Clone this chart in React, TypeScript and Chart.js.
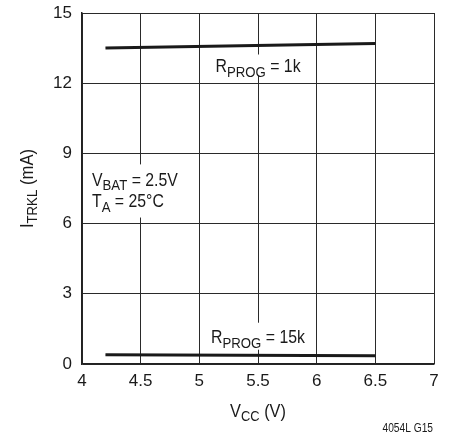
import React, { useEffect, useRef } from 'react';
import { Chart, registerables } from 'chart.js';
Chart.register(...registerables);

const vcc = [4.2, 6.5];
const iProg1k = [13.5, 13.7];
const iProg15k = [0.4, 0.35];
const xTicks = [4, 4.5, 5, 5.5, 6, 6.5, 7];
const yTicks = [0, 3, 6, 9, 12, 15];

const FONT = '"Liberation Sans", Arial, sans-serif';

type Seg = { t: string; size: number; dy?: number };

function measure(ctx: CanvasRenderingContext2D, segs: Seg[], sx: number) {
  let w = 0;
  for (const s of segs) {
    ctx.font = `${s.size}px ${FONT}`;
    w += ctx.measureText(s.t).width;
  }
  return w * sx;
}

function drawRich(ctx: CanvasRenderingContext2D, x: number, y: number, segs: Seg[], align: 'left' | 'center' | 'right', sx = 1) {
  const w = measure(ctx, segs, sx);
  const left = align === 'left' ? x : align === 'center' ? x - w / 2 : x - w;
  ctx.save();
  ctx.translate(left, y);
  ctx.scale(sx, 1);
  ctx.textBaseline = 'alphabetic';
  ctx.textAlign = 'left';
  let cx = 0;
  for (const s of segs) {
    ctx.font = `${s.size}px ${FONT}`;
    ctx.fillText(s.t, cx, s.dy || 0);
    cx += ctx.measureText(s.t).width;
  }
  ctx.restore();
}

const SX = 0.88;

const annotPlugin = {
  id: 'annot',
  afterDatasetsDraw(chart: any) {
    const ctx: CanvasRenderingContext2D = chart.ctx;
    const xs = chart.scales.x;
    const ys = chart.scales.y;
    ctx.save();
    const label = (xv: number, yv: number, segs: Seg[], align: any, boxTop: number, boxBottom: number) => {
      const px = xs.getPixelForValue(xv);
      const py = ys.getPixelForValue(yv);
      const w = measure(ctx, segs, SX);
      const left = align === 'left' ? px : px - w / 2;
      ctx.fillStyle = '#ffffff';
      ctx.fillRect(left - 3, py - boxTop, w + 6, boxTop + boxBottom);
      ctx.fillStyle = '#1a1a1a';
      drawRich(ctx, px, py, segs, align, SX);
    };
    label(5.5, 12.5, [{ t: 'R', size: 18 }, { t: 'PROG', size: 15, dy: 5 }, { t: ' = 1k', size: 18 }], 'center', 17, 4);
    label(5.5, 0.91, [{ t: 'R', size: 18 }, { t: 'PROG', size: 15, dy: 5 }, { t: ' = 15k', size: 18 }], 'center', 20, 7);
    label(4.085, 7.59, [{ t: 'V', size: 18 }, { t: 'BAT', size: 15, dy: 4 }, { t: ' = 2.5V', size: 18 }], 'left', 22, 10);
    label(4.085, 6.73, [{ t: 'T', size: 18 }, { t: 'A', size: 15, dy: 5 }, { t: ' = 25°C', size: 18 }], 'left', 10, 11);

    const ca = chart.chartArea;
    ctx.fillStyle = '#1a1a1a';
    drawRich(ctx, (ca.left + ca.right) / 2, 417, [{ t: 'V', size: 19 }, { t: 'CC', size: 15, dy: 4 }, { t: ' (V)', size: 19 }], 'center', 0.86);
    ctx.save();
    ctx.translate(33, (ca.top + ca.bottom) / 2);
    ctx.rotate(-Math.PI / 2);
    drawRich(ctx, 0, 0, [{ t: 'I', size: 19 }, { t: 'TRKL', size: 15, dy: 4 }, { t: ' (mA)', size: 19 }], 'center', 0.88);
    ctx.restore();
    drawRich(ctx, 433, 432, [{ t: '4054L G15', size: 12 }], 'right', 0.85);
    ctx.restore();
  },
};

export default function App() {
  const ref = useRef<HTMLCanvasElement>(null);
  useEffect(() => {
    const chart = new Chart(ref.current!, {
      type: 'scatter',
      data: {
        datasets: [
          {
            label: 'RPROG = 1k',
            data: vcc.map((v, i) => ({ x: v, y: iProg1k[i] })),
            showLine: true,
            borderColor: '#1a1a1a',
            borderWidth: 3,
            pointRadius: 0,
          },
          {
            label: 'RPROG = 15k',
            data: vcc.map((v, i) => ({ x: v, y: iProg15k[i] })),
            showLine: true,
            borderColor: '#1a1a1a',
            borderWidth: 3,
            pointRadius: 0,
          },
        ],
      },
      options: {
        animation: false,
        responsive: false,
        maintainAspectRatio: false,
        layout: { padding: { left: 0, right: 16, top: 13, bottom: 0 } },
        plugins: { legend: { display: false }, tooltip: { enabled: false } },
        scales: {
          x: {
            type: 'linear',
            min: 4,
            max: 7,
            afterBuildTicks: (s: any) => { s.ticks = xTicks.map((v) => ({ value: v })); },
            afterFit: (s: any) => { s.height = 73; s.paddingLeft = 0; s.paddingRight = 0; },
            grid: { color: '#2a2a2a', lineWidth: 1, drawTicks: false },
            border: { color: '#222', width: 1.5 },
            ticks: { color: '#1a1a1a', padding: 7, font: { family: FONT, size: 17 }, maxRotation: 0, callback: (v: any) => String(v) },
          },
          y: {
            type: 'linear',
            min: 0,
            max: 15,
            afterBuildTicks: (s: any) => { s.ticks = yTicks.map((v) => ({ value: v })); },
            afterFit: (s: any) => { s.width = 82; s.paddingTop = 0; s.paddingBottom = 0; },
            grid: { color: '#2a2a2a', lineWidth: 1, drawTicks: false },
            border: { color: '#222', width: 1.5 },
            ticks: { color: '#1a1a1a', padding: 10, font: { family: FONT, size: 17 }, callback: (v: any) => String(v) },
          },
        },
      },
      plugins: [annotPlugin],
    });
    return () => chart.destroy();
  }, []);
  return (
    <div style={{ position: 'fixed', left: 0, top: 0, width: 450, height: 437, background: '#fff' }}>
      <canvas ref={ref} width={450} height={437} style={{ width: 450, height: 437 }} />
    </div>
  );
}
